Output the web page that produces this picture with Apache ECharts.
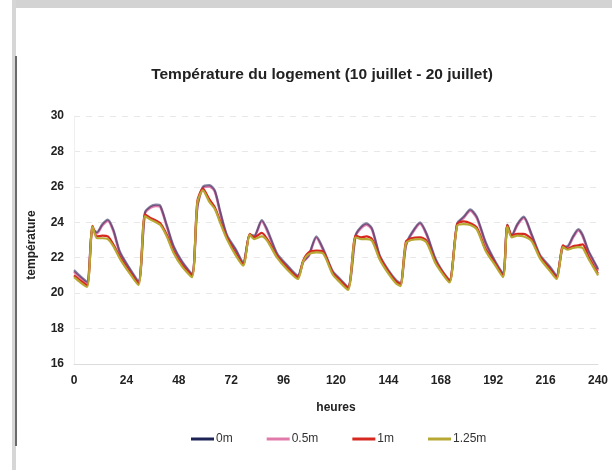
<!DOCTYPE html>
<html>
<head>
<meta charset="utf-8">
<script src="https://cdn.jsdelivr.net/npm/echarts@6/dist/echarts.min.js"></script>
<style>
html,body{margin:0;padding:0;background:#fff;}
#chart{width:612px;height:470px;}
</style>
</head>
<body>
<div id="chart"></div>
<script>
// Hours (x values) shared by all series
const hours = [
  0,3,6,8.5,10.5,13,15.5,18,21,25,29.5,
  32.5,35,37.5,39.5,42.5,45.5,49.5,54,
  56.5,59,62,64.5,67,70,74,77.5,
  80.5,82.5,86,88.5,93,97.5,102.5,
  105,107.5,111,114,118.5,121.5,125.5,
  129,131.5,134,136.5,140,144,147.5,149.5,
  152,154.5,158.5,161.5,165.5,169,172,
  175.5,178.5,181.5,184.5,188.5,193,196.5,
  198.5,200.5,203,206,209.5,213.5,218,221,
  224,226,228.5,231,233,235.5,239.5,240
];
const t0m = [
  21.3,20.95,20.65,23.65,23.45,23.9,24.15,23.6,22.35,21.5,20.7,
  24.55,24.9,25.0,24.95,23.85,22.7,21.8,21.1,
  24.9,26.0,26.1,25.8,24.6,23.3,22.5,21.75,
  23.3,23.25,24.13,23.6,22.25,21.6,21.0,
  21.8,22.15,23.2,22.55,21.25,20.85,20.37,
  23.28,23.75,23.94,23.66,22.15,21.3,20.74,20.56,
  22.7,23.37,24.0,23.37,21.97,21.2,20.74,
  23.94,24.32,24.73,24.32,22.9,21.78,21.12,
  23.85,23.28,23.9,24.32,23.37,22.15,21.5,21.0,
  22.63,22.65,23.2,23.62,23.3,22.44,21.5,21.35
];
const t05m = [
  21.2,20.87,20.57,23.6,23.37,23.82,24.07,23.5,22.25,21.42,20.62,
  24.5,24.82,24.92,24.87,23.75,22.6,21.72,21.02,
  24.85,25.92,26.02,25.72,24.5,23.2,22.42,21.67,
  23.25,23.18,24.05,23.5,22.15,21.52,20.92,
  21.75,22.08,23.12,22.45,21.17,20.77,20.3,
  23.22,23.67,23.86,23.57,22.06,21.22,20.66,20.48,
  22.65,23.3,23.92,23.28,21.88,21.12,20.66,
  23.88,24.25,24.65,24.23,22.8,21.7,21.04,
  23.8,23.2,23.82,24.24,23.28,22.06,21.42,20.92,
  22.57,22.58,23.12,23.54,23.2,22.35,21.42,21.27
];
const t1m = [
  21.0,20.7,20.45,23.8,23.2,23.25,23.2,22.75,22.05,21.3,20.55,
  24.45,24.25,24.1,23.95,23.3,22.4,21.6,21.0,
  25.2,25.9,25.3,24.85,24.05,23.15,22.25,21.65,
  23.35,23.15,23.4,23.05,22.1,21.45,20.9,
  21.85,22.3,22.4,22.35,21.15,20.75,20.3,
  23.25,23.15,23.2,23.05,22.05,21.2,20.65,20.5,
  22.9,23.1,23.15,22.95,21.8,21.15,20.7,
  23.9,24.05,23.95,23.7,22.5,21.65,21.0,
  23.85,23.25,23.35,23.35,23.05,22.05,21.35,20.9,
  22.7,22.5,22.65,22.7,22.75,22.1,21.2,21.1
];
const t125m = [
  20.9,20.6,20.35,23.75,23.1,23.1,23.05,22.65,21.95,21.2,20.45,
  24.35,24.15,24.0,23.85,23.2,22.3,21.5,20.9,
  25.1,25.8,25.15,24.75,23.95,23.05,22.15,21.55,
  23.3,23.05,23.2,22.95,22.0,21.35,20.8,
  21.8,22.2,22.3,22.25,21.05,20.65,20.18,
  23.15,23.05,23.05,22.95,21.9,21.1,20.55,20.4,
  22.8,23.0,23.05,22.85,21.7,21.05,20.6,
  23.8,23.9,23.85,23.6,22.4,21.55,20.9,
  23.75,23.15,23.25,23.2,22.95,21.95,21.25,20.8,
  22.6,22.45,22.55,22.6,22.55,21.97,21.12,21.0
];
const seriesNames = ['0m','0.5m','1m','1.25m'];
const seriesValues = [t0m, t05m, t1m, t125m];
const seriesColors = ['#1d2354','#e07aaa','#d6281e','#b7a834'];
const lineWidths = [2.2, 2.4, 2.2, 2.2];
const lineOpacity = [0.55, 1, 1, 1];
const zOrder = [3, 2, 4, 5];
const yTicks = {min:16, max:30, interval:2};
const xTicks = {min:0, max:240, interval:24};

const chart = echarts.init(document.getElementById('chart'), null, {renderer:'canvas'});
const font = '"Liberation Sans", Arial, sans-serif';

const series = seriesNames.map((name, i) => ({
  name: name,
  type: 'line',
  symbol: 'none',
  smooth: 0.25,
  z: zOrder[i],
  lineStyle: {color: seriesColors[i], width: lineWidths[i], opacity: lineOpacity[i]},
  itemStyle: {color: seriesColors[i]},
  data: hours.map((h, k) => [h, seriesValues[i][k]])
}));

chart.setOption({
  backgroundColor: '#ffffff',
  animation: false,
  title: {
    text: 'Température du logement (10 juillet - 20 juillet)',
    left: 317, top: 62, textAlign: 'center',
    textStyle: {fontFamily: font, fontSize: 15.5, fontWeight: 'bold', color: '#222'}
  },
  legend: {
    data: seriesNames,
    left: 186, top: 428,
    icon: 'rect', itemWidth: 23, itemHeight: 3, itemGap: 34,
    itemStyle: {opacity: 1},
    textStyle: {fontFamily: font, fontSize: 12, color: '#333', padding: [0,0,0,-3]}
  },
  grid: {left: 74, right: 14, top: 116, bottom: 106, containLabel: false},
  xAxis: {
    type: 'value', min: xTicks.min, max: xTicks.max, interval: xTicks.interval,
    name: 'heures', nameLocation: 'middle', nameGap: 38,
    nameTextStyle: {fontFamily: font, fontSize: 12, fontWeight: 'bold', color: '#222'},
    axisLine: {show: true, lineStyle: {color: '#dcdcdc', width: 1}},
    axisTick: {show: false},
    splitLine: {show: false},
    axisLabel: {fontFamily: font, fontSize: 12, fontWeight: 'bold', color: '#222', margin: 11}
  },
  yAxis: {
    type: 'value', min: yTicks.min, max: yTicks.max, interval: yTicks.interval,
    axisLine: {show: true, lineStyle: {color: '#efefef'}},
    axisTick: {show: false},
    splitLine: {show: true, lineStyle: {color: '#e8e8e8', type: [6, 6]}},
    axisLabel: {fontFamily: font, fontSize: 12, fontWeight: 'bold', color: '#222', margin: 10}
  },
  graphic: [
    {type: 'rect', shape: {x: 12, y: 0, width: 600, height: 8}, style: {fill: '#d3d3d3'}, silent: true},
    {type: 'rect', shape: {x: 12, y: 0, width: 4, height: 470}, style: {fill: '#d6d6d6'}, silent: true},
    {type: 'rect', shape: {x: 15, y: 56, width: 2, height: 390}, style: {fill: '#6a6a6a'}, silent: true},
    {type: 'text', x: 32, y: 245, rotation: Math.PI / 2,
      style: {text: 'température', fontFamily: font, fontSize: 12, fontWeight: 'bold', fill: '#222',
        textAlign: 'center', textVerticalAlign: 'middle'}}
  ],
  series: series
});
</script>
</body>
</html>
